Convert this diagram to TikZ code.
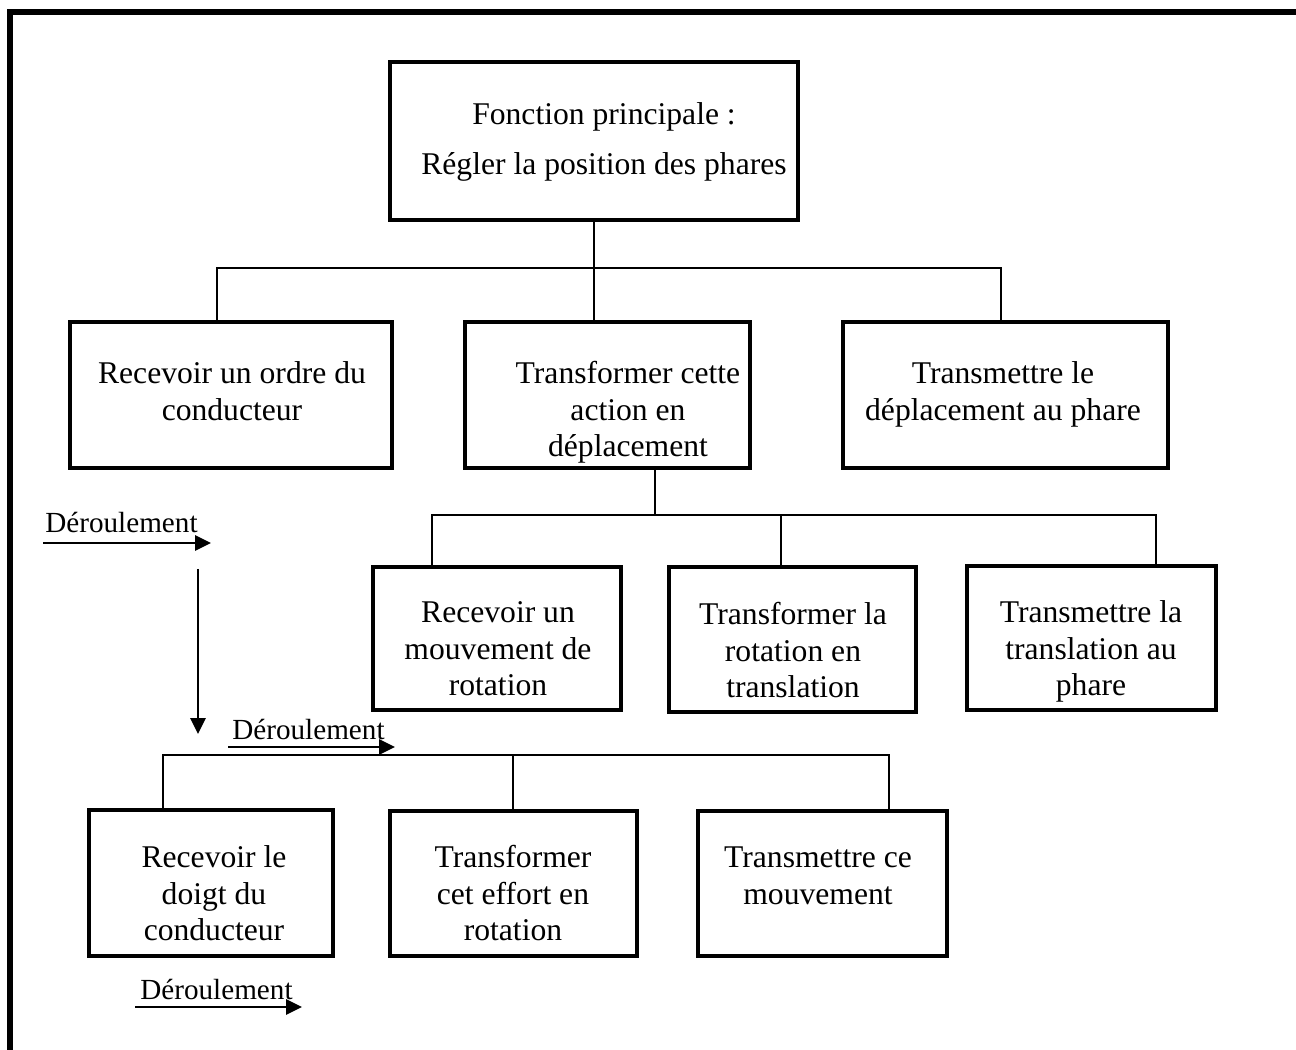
\documentclass[tikz,border=0pt]{standalone}
\usepackage{fontspec}
\setmainfont{Liberation Serif}
\usepackage{tikz}
\usetikzlibrary{arrows.meta, calc, positioning}

\begin{document}
\begin{tikzpicture}[x=0.02cm, y=-0.02cm,
    box/.style={draw, line width=2pt, rectangle, inner sep=0pt},
    txt/.style={align=center, inner sep=0pt, anchor=north, font=\fontsize{18}{21}\selectfont},
    link/.style={line width=1.1pt},
    flow/.style={line width=1.5pt, -{Triangle[length=9pt, width=8.5pt]}},
    deroul/.style={anchor=base west, inner sep=0pt, font=\fontsize{16.6}{19}\selectfont}]
                        \useasboundingbox (0,0) rectangle (1296,1050);
                        \draw[line width=3.4pt] (10,1050) -- (10,12) -- (1296,12);
                        % fonction principale
                        \node[box, minimum width=408*0.02cm, minimum height=158*0.02cm] (fp) at (594,141) {};
                        \node[txt, font=\fontsize{18}{28.5}\selectfont] (fpt) at (604,89) {\strut Fonction principale :\\R\'egler la position des phares};
                        % niveau 2
                        \node[box, minimum width=322*0.02cm, minimum height=146*0.02cm] (ordre) at (231,395) {};
                        \node[box, minimum width=285*0.02cm, minimum height=146*0.02cm] (action) at (607.5,395) {};
                        \node[box, minimum width=325*0.02cm, minimum height=146*0.02cm] (phare) at (1005.5,395) {};
                        \node[txt] (ordret) at (232,357) {\strut Recevoir un ordre du\\conducteur};
                        \node[txt] (actiont) at (628,357) {\strut Transformer cette\\action en\\d\'eplacement};
                        \node[txt] (pharet) at (1003,357) {\strut Transmettre le\\d\'eplacement au phare};
                        \coordinate (j1l) at (217,268);
                        \coordinate (j1r) at (1001,268);
                        \draw[link] (fp.south) -- (fp.south |- action.north);
                        \draw[link] (j1l |- ordre.north) -- (j1l) -- (j1r) -- (j1r |- phare.north);
                        % niveau 3
                        \node[box, minimum width=248*0.02cm, minimum height=143*0.02cm] (rot) at (497,638.5) {};
                        \node[box, minimum width=247*0.02cm, minimum height=145*0.02cm] (trans) at (792.5,639.5) {};
                        \node[box, minimum width=249*0.02cm, minimum height=144*0.02cm] (transl) at (1091.5,638) {};
                        \node[txt] (rott) at (498,596) {\strut Recevoir un\\mouvement de\\rotation};
                        \node[txt] (transt) at (793,598) {\strut Transformer la\\rotation en\\translation};
                        \node[txt] (translt) at (1091,596) {\strut Transmettre la\\translation au\\phare};
                        \coordinate (j2l) at (432,515);
                        \coordinate (j2m) at (655,515);
                        \coordinate (j2c) at (781,515);
                        \coordinate (j2r) at (1156,515);
                        \draw[link] (action.south -| j2m) -- (j2m);
                        \draw[link] (j2l |- rot.north) -- (j2l) -- (j2r) -- (j2r |- transl.north);
                        \draw[link] (j2c) -- (j2c |- trans.north);
                        % niveau 4
                        \node[box, minimum width=244*0.02cm, minimum height=146*0.02cm] (doigt) at (211,883) {};
                        \node[box, minimum width=247*0.02cm, minimum height=145*0.02cm] (effort) at (513.5,883.5) {};
                        \node[box, minimum width=249*0.02cm, minimum height=145*0.02cm] (mvt) at (822.5,883.5) {};
                        \node[txt] (doigtt) at (214,841) {\strut Recevoir le\\doigt du\\conducteur};
                        \node[txt] (effortt) at (513,841) {\strut Transformer\\cet effort en\\rotation};
                        \node[txt] (mvtt) at (818,841) {\strut Transmettre ce\\mouvement};
                        \coordinate (j3l) at (163,755);
                        \coordinate (j3c) at (513,755);
                        \coordinate (j3r) at (889,755);
                        \draw[link] (j3l |- doigt.north) -- (j3l) -- (j3r) -- (j3r |- mvt.north);
                        \draw[link] (j3c) -- (j3c |- effort.north);
                        % deroulement
                        \node[deroul] (d1) at (45,533) {D\'eroulement};
                        \node[deroul] (d2) at (232,740) {D\'eroulement};
                        \node[deroul] (d3) at (140,999) {D\'eroulement};
                        \coordinate (d1a) at (43,543);
                        \coordinate (d1b) at (211,543);
                        \coordinate (d2a) at (228,747);
                        \coordinate (d2b) at (395,747);
                        \coordinate (d3a) at (135,1007);
                        \coordinate (d3b) at (302,1007);
                        \coordinate (va) at (198,569);
                        \coordinate (vb) at (198,734);
                        \draw[flow] (d1a) -- (d1b);
                        \draw[flow] (d2a) -- (d2b);
                        \draw[flow] (d3a) -- (d3b);
                        \draw[flow] (va) -- (vb);
                    \end{tikzpicture}
\end{document}
